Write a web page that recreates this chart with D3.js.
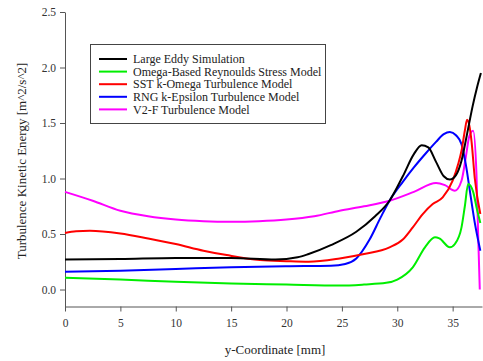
<!DOCTYPE html>
<html>
<head>
<meta charset="utf-8">
<script src="https://cdn.jsdelivr.net/npm/d3@7"></script>
<style>
  html, body { margin: 0; padding: 0; background: #fff; }
  svg { display: block; font-family: "Liberation Serif", "Times New Roman", serif; }
</style>
</head>
<body>
<svg id="chart" width="483" height="361"></svg>
<script>
// ---- data ----
const seriesNames = [
  "Large Eddy Simulation",
  "Omega-Based Reynoulds Stress Model",
  "SST k-Omega Turbulence Model",
  "RNG k-Epsilon Turbulence Model",
  "V2-F Turbulence Model"
];
const seriesColors = ["#000000", "#00ee00", "#ff0000", "#0000ff", "#ff00ff"];

const lesX = [0, 5, 10, 15, 19, 21, 22, 24, 26.3, 28, 29.3, 30.5, 31.5, 32.2, 32.8, 33.5, 34.2, 34.75, 35.3, 35.8, 36.3, 36.8, 37.2, 37.55];
const lesY = [0.27, 0.275, 0.285, 0.285, 0.27, 0.29, 0.32, 0.40, 0.52, 0.66, 0.80, 1.02, 1.22, 1.30, 1.28, 1.15, 1.02, 0.99, 1.03, 1.16, 1.40, 1.65, 1.82, 1.95];

const omegaX = [0, 5, 10, 15, 20, 24.8, 27, 29, 30, 31.4, 32.5, 33.4, 33.8, 34.75, 35.2, 35.8, 36.1, 36.4, 36.85, 37.2, 37.5];
const omegaY = [0.105, 0.09, 0.07, 0.055, 0.045, 0.036, 0.045, 0.06, 0.09, 0.20, 0.38, 0.47, 0.46, 0.38, 0.41, 0.56, 0.75, 0.95, 0.88, 0.72, 0.60];

const sstX = [0, 1, 2.25, 5, 7.5, 10, 12.5, 14.6, 17.6, 20, 22, 24.8, 27, 29.3, 30.5, 31.4, 32.3, 33.2, 34.1, 35.0, 35.5, 35.8, 36.1, 36.3, 36.5, 36.7, 37.0, 37.5];
const sstY = [0.51, 0.525, 0.53, 0.505, 0.46, 0.41, 0.35, 0.31, 0.265, 0.255, 0.25, 0.28, 0.32, 0.38, 0.45, 0.56, 0.68, 0.77, 0.83, 0.98, 1.13, 1.25, 1.43, 1.53, 1.48, 1.34, 1.0, 0.68];

const rngX = [0, 5, 10, 15, 20, 24, 25.3, 26.3, 27.5, 28.5, 29.3, 30.5, 31.5, 32.6, 33.5, 34.2, 34.75, 35.3, 35.8, 36.2, 36.55, 37, 37.5];
const rngY = [0.16, 0.17, 0.185, 0.20, 0.21, 0.215, 0.23, 0.28, 0.45, 0.65, 0.80, 0.97, 1.10, 1.23, 1.33, 1.40, 1.42, 1.39, 1.31, 1.12, 0.89, 0.60, 0.35];

const v2fX = [0, 2.5, 5, 7.5, 10, 12.5, 15, 17.5, 20, 22.5, 24.8, 27, 29.3, 31.5, 33.5, 34.3, 35.2, 35.8, 36.2, 36.5, 36.85, 37.15, 37.3, 37.45];
const v2fY = [0.88, 0.80, 0.71, 0.66, 0.63, 0.615, 0.61, 0.615, 0.63, 0.66, 0.71, 0.75, 0.80, 0.88, 0.96, 0.94, 0.89, 0.98, 1.20, 1.38, 1.43, 1.04, 0.50, 0.0];

const xTicks = [0, 5, 10, 15, 20, 25, 30, 35];
const yTicks = [0.0, 0.5, 1.0, 1.5, 2.0, 2.5];
const xTitle = "y-Coordinate [mm]";
const yTitle = "Turbulence Kinetic Energy [m^2/s^2]";

// ---- drawing ----
const svg = d3.select("#chart");
const x = d3.scaleLinear().domain([0, 37.65]).range([65, 482]);
const y = d3.scaleLinear().domain([-0.153, 2.5]).range([306.5, 12]);

const seriesData = [
  d3.zip(lesX, lesY),
  d3.zip(omegaX, omegaY),
  d3.zip(sstX, sstY),
  d3.zip(rngX, rngY),
  d3.zip(v2fX, v2fY)
];

const line = d3.line().x(d => x(d[0])).y(d => y(d[1])).curve(d3.curveMonotoneX);

// axes
const xAxis = svg.append("g").attr("transform", "translate(0,306.5)")
  .call(d3.axisBottom(x).tickValues(xTicks).tickFormat(d3.format("d")).tickSize(5).tickPadding(7).tickSizeOuter(0));
const yAxis = svg.append("g").attr("transform", "translate(65,0)")
  .call(d3.axisLeft(y).tickValues(yTicks).tickFormat(d3.format(".1f")).tickSize(5).tickPadding(4).tickSizeOuter(0));
[xAxis, yAxis].forEach(a => {
  a.selectAll("path.domain").attr("stroke", "#555").attr("stroke-width", 1);
  a.selectAll(".tick line").attr("stroke", "#555");
  a.selectAll("text").attr("font-family", "Liberation Serif").attr("font-size", 11.5).attr("fill", "#333");
});

// series lines
const order = [4, 3, 2, 1, 0];
order.forEach(i => {
  svg.append("path")
    .datum(seriesData[i])
    .attr("fill", "none")
    .attr("stroke", seriesColors[i])
    .attr("stroke-width", 2)
    .attr("d", line);
});

// titles
svg.append("text").attr("x", 275).attr("y", 354).attr("text-anchor", "middle")
  .attr("font-size", 13).attr("fill", "#222").text(xTitle);
svg.append("text").attr("transform", "translate(26,161) rotate(-90)").attr("text-anchor", "middle")
  .attr("font-size", 13).attr("fill", "#222").text(yTitle);

// legend
const lg = svg.append("g");
lg.append("rect").attr("x", 90.5).attr("y", 44.5).attr("width", 235).attr("height", 79)
  .attr("fill", "#fff").attr("stroke", "#444").attr("stroke-width", 1);
seriesNames.forEach((name, i) => {
  const yy = 59 + i * 12.6;
  lg.append("line").attr("x1", 99).attr("x2", 127).attr("y1", yy).attr("y2", yy)
    .attr("stroke", seriesColors[i]).attr("stroke-width", 2);
  lg.append("text").attr("x", 133).attr("y", yy).attr("dy", "0.35em")
    .attr("font-size", 12).attr("fill", "#222").text(name);
});
</script>
</body>
</html>
